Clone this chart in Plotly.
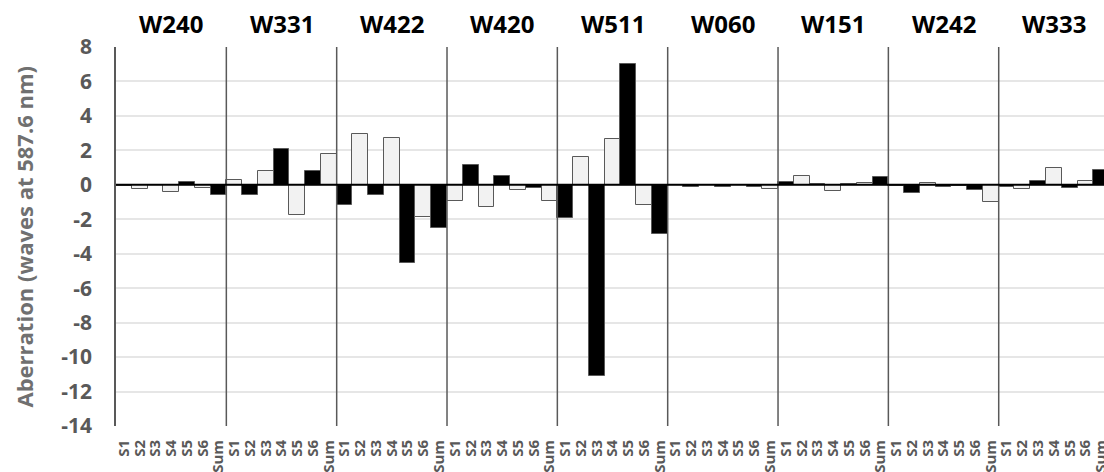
import plotly.graph_objects as go

groups = ["W240", "W331", "W422", "W420", "W511", "W060", "W151", "W242", "W333"]
sub_labels = ["S1", "S2", "S3", "S4", "S5", "S6", "Sum"]

w240 = [-0.08, -0.25, 0.0, -0.4, 0.15, -0.2, -0.6]
w331 = [0.3, -0.6, 0.8, 2.1, -1.75, 0.8, 1.8]
w422 = [-1.2, 2.95, -0.6, 2.7, -4.55, -1.85, -2.5]
w420 = [-0.95, 1.15, -1.3, 0.5, -0.3, -0.2, -0.95]
w511 = [-1.9, 1.6, -11.1, 2.65, 7.0, -1.15, -2.85]
w060 = [0.0, -0.15, 0.0, -0.12, 0.0, -0.1, -0.25]
w151 = [0.15, 0.5, 0.02, -0.35, 0.02, 0.1, 0.45]
w242 = [-0.05, -0.45, 0.1, -0.15, -0.05, -0.3, -1.0]
w333 = [-0.15, -0.25, 0.25, 0.95, -0.2, 0.25, 0.85]

series = [w240, w331, w422, w420, w511, w060, w151, w242, w333]

y_tick_vals = [8, 6, 4, 2, 0, -2, -4, -6, -8, -10, -12, -14]
y_tick_text = ["8", "6", "4", "2", "0", "-2", "-4", "-6", "-8", "-10", "-12", "-14"]

values = [v for grp in series for v in grp]
xpos = list(range(len(values)))
ticktext = [s for _ in groups for s in sub_labels]
colors = ["#000000" if i % 2 == 0 else "#f2f2f2" for i in xpos]

n_sub = len(sub_labels)

fig = go.Figure()
fig.add_trace(go.Bar(
    x=xpos, y=values,
    marker=dict(color=colors, line=dict(color="#595959", width=1)),
    width=1.0,
    hoverinfo="skip",
))

shapes = []
for k in range(1, len(groups)):
    shapes.append(dict(type="line", xref="x", yref="paper",
                       x0=k * n_sub - 0.5, x1=k * n_sub - 0.5, y0=0, y1=1,
                       line=dict(color="#595959", width=1.5), layer="above"))
shapes.append(dict(type="line", xref="paper", yref="y", x0=0, x1=1, y0=0, y1=0,
                   line=dict(color="#000000", width=2), layer="above"))

annotations = []
for k, g in enumerate(groups):
    annotations.append(dict(x=k * n_sub + (n_sub - 1) / 2, y=1, xref="x", yref="paper",
                            text=g, showarrow=False, xanchor="center", yanchor="middle",
                            yshift=24, font=dict(family="Open Sans", size=24, color="#000000", weight="bold")))
annotations.append(dict(x=0, y=0.5, xref="paper", yref="paper",
                        text="Aberration (waves at 587.6 nm)", textangle=-90,
                        showarrow=False, xanchor="center", yanchor="middle", xshift=-93,
                        font=dict(family="Open Sans", size=22, color="#707070", weight="bold")))

fig.update_layout(
    width=1104, height=472,
    margin=dict(l=116, r=0, t=47, b=46, autoexpand=False),
    paper_bgcolor="white", plot_bgcolor="white",
    bargap=0,
    showlegend=False,
    shapes=shapes,
    annotations=annotations,
    xaxis=dict(
        range=[-0.5, 62.18],
        tickmode="array", tickvals=xpos, ticktext=ticktext,
        tickangle=-90,
        tickfont=dict(family="Open Sans", size=15, color="#595959", weight="bold"),
        showgrid=False, zeroline=False, showline=False,
        ticks="", automargin=False, ticklabelstandoff=10,
        ticklabeloverflow="allow",
    ),
    yaxis=dict(
        range=[-14, 8],
        tickmode="array", tickvals=y_tick_vals, ticktext=y_tick_text,
        tickfont=dict(family="Open Sans", size=21, color="#595959", weight="bold"),
        showgrid=True, gridcolor="#e6e6e6", gridwidth=1.5,
        zeroline=False,
        showline=True, linecolor="#595959", linewidth=1.5,
        ticks="", ticklabelstandoff=18, automargin=False,
    ),
)

fig.write_html("out.html", config={"displayModeBar": False},
               post_script="document.body.style.margin='0';document.body.style.overflow='hidden';")
